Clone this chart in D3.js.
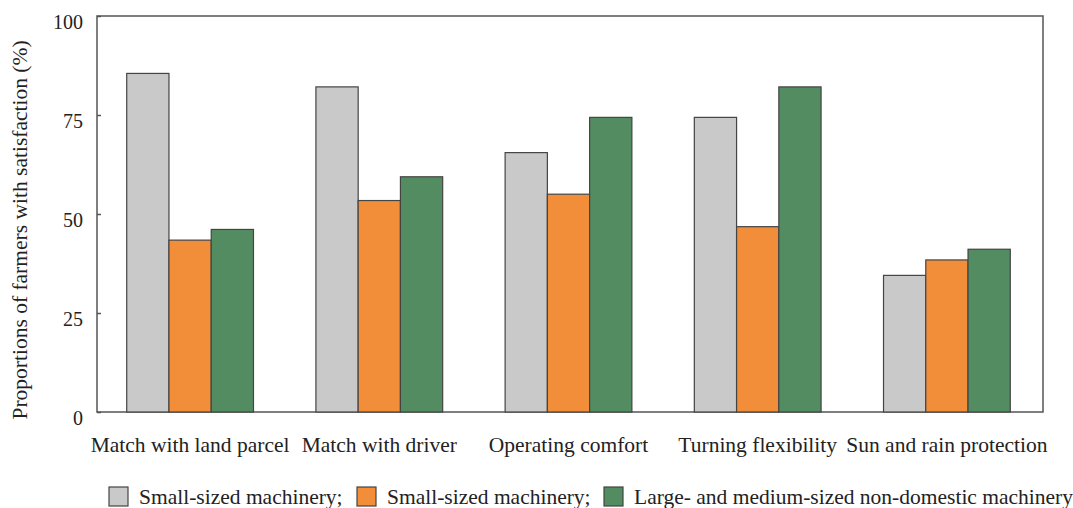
<!DOCTYPE html>
<html>
<head>
<meta charset="utf-8">
<script src="https://cdn.jsdelivr.net/npm/d3@7"></script>
<style>
  html, body { margin: 0; padding: 0; background: #ffffff; }
  svg text { font-family: "Liberation Serif", "Times New Roman", serif; fill: #222; }
</style>
</head>
<body>
<svg id="chart" width="1073" height="508"></svg>
<script>
const categories = ["Match with land parcel", "Match with driver", "Operating comfort", "Turning flexibility", "Sun and rain protection"];
const seriesNames = ["Small-sized machinery;", "Small-sized machinery;", "Large- and medium-sized non-domestic machinery"];
const smallDomestic = [85.5, 82.1, 65.5, 74.4, 34.5];
const smallOther = [43.4, 53.4, 55.0, 46.8, 38.4];
const largeMedium = [46.1, 59.4, 74.4, 82.1, 41.1];
const yTicks = [0, 25, 50, 75, 100];
const colors = ["#c9c9c9", "#f28d39", "#548c62"];

const series = [smallDomestic, smallOther, largeMedium];

const svg = d3.select("#chart");
const plot = { left: 97, right: 1043, top: 16, bottom: 412 };

const y = d3.scaleLinear().domain([0, 100]).range([plot.bottom, plot.top]);
const x0 = d3.scaleBand().domain(categories).range([95.5, 1041.5]).paddingInner(0.33).paddingOuter(0.165);
const x1 = d3.scaleBand().domain([0, 1, 2]).range([0, x0.bandwidth()]);

// Frame
svg.append("rect")
  .attr("x", plot.left).attr("y", plot.top)
  .attr("width", plot.right - plot.left).attr("height", plot.bottom - plot.top)
  .attr("fill", "none").attr("stroke", "#555").attr("stroke-width", 1.5);

// Bars
const groups = svg.append("g").selectAll("g")
  .data(categories).join("g")
  .attr("transform", d => `translate(${x0(d)},0)`);

groups.selectAll("rect")
  .data((d, i) => series.map((s, k) => ({ k, v: s[i] })))
  .join("rect")
  .attr("x", d => x1(d.k))
  .attr("y", d => y(d.v))
  .attr("width", x1.bandwidth())
  .attr("height", d => y(0) - y(d.v))
  .attr("fill", d => colors[d.k])
  .attr("stroke", "#444")
  .attr("stroke-width", 1.2);

// Y axis
const yAxis = d3.axisLeft(y).tickValues(yTicks).tickSize(-4).tickPadding(14);
const ya = svg.append("g").attr("transform", `translate(${plot.left},0)`).call(yAxis);
ya.select(".domain").remove();
ya.selectAll(".tick line").attr("stroke", "#555").attr("stroke-width", 1.5);
ya.selectAll(".tick text").attr("font-size", 20).attr("dy", "0.6em")
  .attr("font-family", "Liberation Serif, serif").attr("fill", "#222");

// X axis labels
const xAxis = d3.axisBottom(x0).tickSize(0).tickPadding(25);
const xa = svg.append("g").attr("transform", `translate(0,${plot.bottom})`).call(xAxis);
xa.select(".domain").remove();
xa.selectAll(".tick text").attr("font-size", 21.5)
  .attr("font-family", "Liberation Serif, serif").attr("fill", "#222");

// Y title
svg.append("text")
  .attr("transform", `translate(27,${(plot.top + plot.bottom) / 2 + 16}) rotate(-90)`)
  .attr("text-anchor", "middle")
  .attr("font-size", 21.5)
  .text("Proportions of farmers with satisfaction (%)");

// Legend
const legendX = [109, 357, 604];
const leg = svg.append("g").selectAll("g").data(seriesNames).join("g")
  .attr("transform", (d, i) => `translate(${legendX[i]},487)`);
leg.append("rect").attr("width", 19).attr("height", 19)
  .attr("fill", (d, i) => colors[i]).attr("stroke", "#444").attr("stroke-width", 1.2);
leg.append("text").attr("x", 30).attr("y", 17).attr("font-size", 21.5).text(d => d);
</script>
</body>
</html>
